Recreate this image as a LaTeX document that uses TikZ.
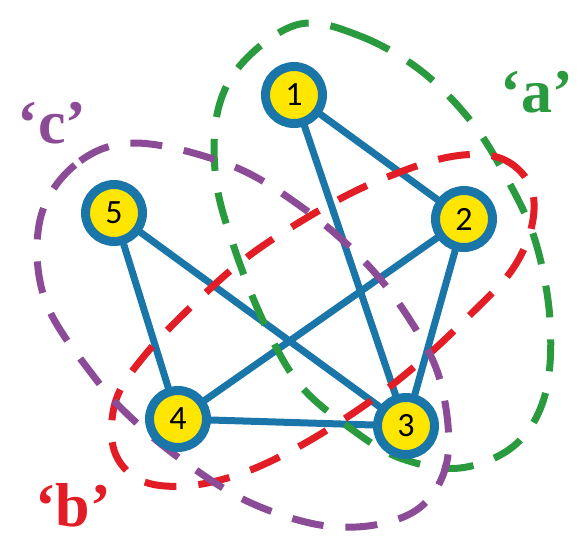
\documentclass[tikz,border=0pt]{standalone}
\usepackage{fontspec}
\setmainfont{Liberation Serif}
\newfontfamily\numfont{Carlito}
\usetikzlibrary{backgrounds}
\definecolor{nblue}{HTML}{1A75A9}
\definecolor{nyellow}{HTML}{FFE600}
\definecolor{rgreen}{HTML}{2A9A3F}
\definecolor{rred}{HTML}{E31D25}
\definecolor{rpurple}{HTML}{8C4B97}
\begin{document}
\begin{tikzpicture}[x=1pt,y=-1pt,
  vertex/.style={circle, draw=nblue, line width=9pt, fill=nyellow, minimum size=57pt, inner sep=0pt, text=black, font=\numfont\fontsize{34}{34}\selectfont},
  edge/.style={draw=nblue, line width=7pt},
  region/.style={line width=7pt, dash pattern=on 32pt off 22pt},
  lab/.style={anchor=base, font=\bfseries\fontsize{62}{62}\selectfont}]
\useasboundingbox (0,0) rectangle (587,546);
\node[vertex] (n1) at (294,95) {1};
\node[vertex] (n2) at (464,219) {2};
\node[vertex] (n3) at (406,426) {3};
\node[vertex] (n4) at (178,419) {4};
\node[vertex] (n5) at (114,213) {5};
\begin{scope}[on background layer]
  \draw[edge] (n1.center) -- (n2.center);
  \draw[edge] (n1.center) -- (n3.center);
  \draw[edge] (n2.center) -- (n3.center);
  \draw[edge] (n2.center) -- (n4.center);
  \draw[edge] (n4.center) -- (n3.center);
  \draw[edge] (n5.center) -- (n4.center);
  \draw[edge] (n5.center) -- (n3.center);
  % region a (green)
  \draw[region, draw=rgreen] plot[smooth cycle, tension=0.6] coordinates {
    (300,24) (360,36) (420,70) (470,120) (505,175) (535,240) (550,320)
    (545,395) (515,445) (460,468) (400,458) (350,428) (300,385) (265,325)
    (235,250) (216,180) (218,110) (245,60)};
  % region b (red)
  \draw[region, draw=rred] plot[smooth cycle, tension=0.6] coordinates {
    (449,157) (500,158) (530,185) (532,225) (512,270) (470,315) (420,362)
    (365,405) (300,446) (240,474) (185,486) (140,480) (114,450) (116,400)
    (145,355) (195,303) (250,255) (320,210) (380,180)};
  % region c (purple)
  \draw[region, draw=rpurple] plot[smooth cycle, tension=0.6] coordinates {
    (135,143) (75,165) (40,220) (45,300) (95,378) (140,426) (193,468)
    (251,503) (320,525) (380,524) (425,503) (448,455) (440,380) (410,320)
    (365,262) (303,208) (230,165)};
\end{scope}
\node[lab, text=rgreen] (la) at (537,112) {‘a’};
\node[lab, text=rred] (lb) at (73,526) {‘b’};
\node[lab, text=rpurple] (lc) at (52,143) {‘c’};
\end{tikzpicture}
\end{document}
